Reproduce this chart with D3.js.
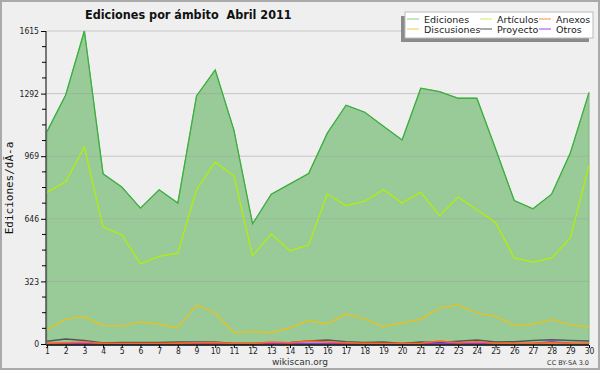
<!DOCTYPE html>
<html>
<head>
<meta charset="utf-8">
<script src="https://cdn.jsdelivr.net/npm/d3@7"></script>
<style>
  body { margin: 0; background: #f0f0f0; }
  svg { display: block; font-family: "DejaVu Sans", sans-serif; }
</style>
</head>
<body>
<svg id="chart" width="600" height="370"></svg>
<script>
// Ediciones por ámbito - Abril 2011

const days = d3.range(1, 31);
const ediciones = [1096, 1285, 1615, 878, 810, 701, 796, 727, 1280, 1414, 1104, 620, 773, 826, 880,
    1088, 1232, 1196, 1124, 1053, 1320, 1302, 1268, 1268, 1007, 740, 698, 773, 985, 1297];
const articulos = [782, 838, 1016, 603, 564, 414, 452, 469, 796, 938, 868, 455, 567, 481, 512,
    775, 713, 737, 796, 727, 784, 662, 758, 693, 627, 444, 423, 444, 547, 919];
const discusiones = [74, 129, 140, 95, 93, 114, 103, 83, 200, 160, 59, 64, 59, 83, 122,
    103, 155, 129, 90, 109, 127, 186, 200, 160, 143, 95, 103, 127, 98, 88];
const proyecto = [14, 26, 18, 5, 8, 8, 8, 10, 10, 10, 2, 2, 5, 8, 15,
    20, 12, 8, 10, 3, 10, 8, 14, 20, 10, 12, 18, 22, 18, 15];
const anexos = [4, 6, 10, 2, 2, 3, 2, 4, 6, 8, 2, 2, 10, 6, 15,
    10, 6, 4, 3, 2, 4, 15, 6, 12, 4, 3, 4, 6, 4, 3];
const otros = [2, 3, 3, 2, 2, 2, 2, 3, 3, 3, 2, 2, 3, 3, 3,
    3, 3, 2, 2, 2, 3, 3, 3, 3, 2, 2, 3, 12, 4, 3];
const yTicks = [0, 323, 646, 969, 1292, 1615];

let svg = d3.select("#chart");
const W = 600, H = 370;
const margin = { top: 31, right: 11, bottom: 26, left: 47 };

// background + outer border
svg.append("rect").attr("x", 1).attr("y", 1).attr("width", W - 2).attr("height", H - 2)
    .attr("fill", "#efeff0").attr("stroke", "#aaaaaa").attr("stroke-width", 2);

let x = d3.scaleLinear().domain([1, 30]).range([margin.left, W - margin.right]);
let y = d3.scaleLinear().domain([0, 1615]).range([H - margin.bottom, margin.top]);

// Green area for Ediciones
let area = d3.area().x((d, i) => x(days[i])).y0(y(0)).y1(d => y(d));
svg.append("path").datum(ediciones)
    .attr("d", area)
    .attr("fill", "#99cb99")
    .attr("stroke", "#7fb57f");

// grid lines (semi transparent so they show over the fill)
svg.append("g").selectAll("line").data(yTicks.slice(1))
    .join("line")
    .attr("x1", x(1)).attr("x2", x(30))
    .attr("y1", d => y(d)).attr("y2", d => y(d))
    .attr("stroke", "#a0a0a0").attr("stroke-opacity", 0.5);

const series = [
    { name: "Proyecto", values: proyecto, color: "#555555", width: 1.5 },
    { name: "Otros", values: otros, color: "#9933ee", width: 1.5 },
    { name: "Anexos", values: anexos, color: "#ff6a10", width: 1.5 },
    { name: "Discusiones", values: discusiones, color: "#f0c010", width: 1.2 },
    { name: "Artículos", values: articulos, color: "#b4f000", width: 1.2 },
    { name: "Ediciones", values: ediciones, color: "#3cb03c", width: 1.3 }
];
let line = d3.line().x((d, i) => x(days[i])).y(d => y(d));
series.forEach(s => {
    svg.append("path").datum(s.values)
        .attr("d", line)
        .attr("fill", "none")
        .attr("stroke", s.color)
        .attr("stroke-width", s.width);
});

// Y axis
let yAxis = d3.axisLeft(y).tickValues(yTicks).tickSize(5).tickPadding(2).tickFormat(d3.format("d"));
let gy = svg.append("g").attr("transform", "translate(" + (margin.left - 1) + ",0)").call(yAxis);
// minor ticks
let minor = [];
for (let i = 0; i < yTicks.length - 1; i++) {
    let step = (yTicks[i + 1] - yTicks[i]) / 4;
    for (let k = 1; k < 4; k++) minor.push(yTicks[i] + k * step);
}
gy.selectAll("line.minor").data(minor).join("line")
    .attr("class", "minor")
    .attr("x1", -4).attr("x2", 0)
    .attr("y1", d => y(d)).attr("y2", d => y(d))
    .attr("stroke", "#000");
gy.select(".domain").attr("stroke", "#000").attr("d", "M0," + y(0) + "V" + y(1615));
gy.selectAll(".tick text").attr("font-size", 8.5).attr("fill", "#222")
    .attr("font-family", "'DejaVu Sans Condensed', 'DejaVu Sans', sans-serif");

// X axis
let xAxis = d3.axisBottom(x).tickValues(days).tickSize(3).tickPadding(0).tickFormat(d3.format("d"));
let gx = svg.append("g").attr("transform", "translate(0," + (y(0) + 1) + ")").call(xAxis);
gx.select(".domain").attr("stroke", "#000").attr("stroke-width", 1.5).attr("d", "M" + (x(1) - 1) + ",0H" + x(30));
gx.selectAll(".tick text").attr("font-size", 8.5).attr("fill", "#222")
    .attr("font-family", "'DejaVu Sans Condensed', 'DejaVu Sans', sans-serif");

// Title
svg.append("text").attr("x", 85).attr("y", 19)
    .attr("xml:space", "preserve").style("white-space", "pre")
    .attr("font-family", "'DejaVu Sans Condensed', 'DejaVu Sans', sans-serif")
    .attr("font-size", 12.5).attr("font-weight", "bold").attr("fill", "#111")
    .text("Ediciones por ámbito  Abril 2011");

// Y label
svg.append("text")
    .attr("transform", "translate(13," + 188 + ") rotate(-90)")
    .attr("text-anchor", "middle").attr("font-size", 11).attr("fill", "#111")
    .attr("font-family", "'DejaVu Sans Mono', monospace")
    .text("Ediciones/dÃ-a");

// footer
svg.append("text").attr("x", 300).attr("y", 365).attr("text-anchor", "middle")
    .attr("font-size", 9).attr("fill", "#333").text("wikiscan.org");
svg.append("text").attr("x", 589).attr("y", 365).attr("text-anchor", "end")
    .attr("font-size", 6.5).attr("fill", "#333").text("CC BY-SA 3.0");

// Legend
let lg = svg.append("g");
lg.append("rect").attr("x", 401).attr("y", 16).attr("width", 188).attr("height", 26).attr("fill", "#8a8a8a");
lg.append("rect").attr("x", 405).attr("y", 12).attr("width", 188).attr("height", 26)
    .attr("fill", "#ffffff").attr("stroke", "#bbbbbb");
const legendItems = [
    { name: "Ediciones", color: "#88cc88", col: 0, row: 0 },
    { name: "Artículos", color: "#ccee66", col: 1, row: 0 },
    { name: "Anexos", color: "#ff8844", col: 2, row: 0 },
    { name: "Discusiones", color: "#f5cc44", col: 0, row: 1 },
    { name: "Proyecto", color: "#555555", col: 1, row: 1 },
    { name: "Otros", color: "#9944ee", col: 2, row: 1 }
];
const colX = [407, 480, 539];
legendItems.forEach(d => {
    let ly = 19 + d.row * 10;
    lg.append("line").attr("x1", colX[d.col]).attr("x2", colX[d.col] + 12)
        .attr("y1", ly).attr("y2", ly).attr("stroke", d.color).attr("stroke-width", 1);
    lg.append("text").attr("x", colX[d.col] + 17).attr("y", ly + 3.5)
        .attr("font-size", 9.5).attr("fill", "#222").text(d.name);
});
</script>
</body>
</html>
